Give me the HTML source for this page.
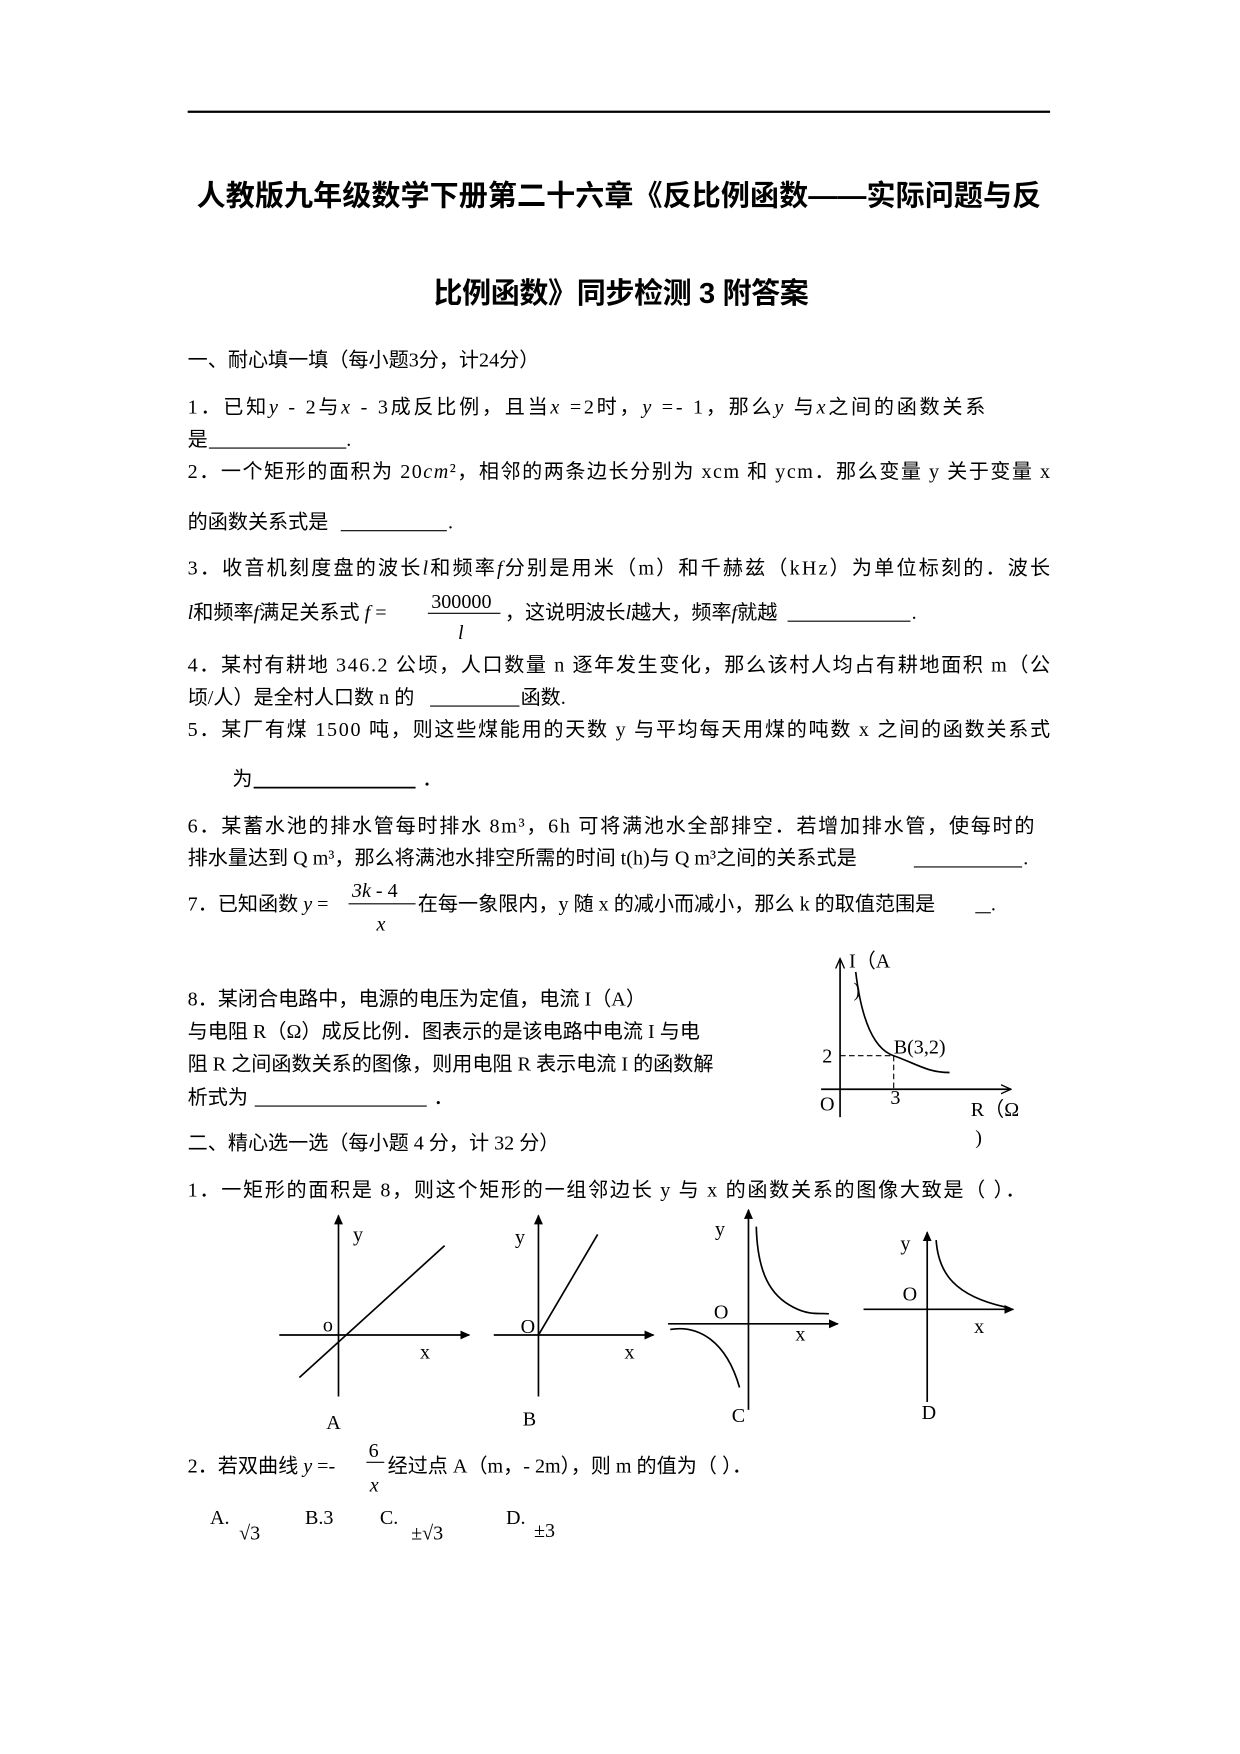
<!DOCTYPE html>
<html><head><meta charset="utf-8"><style>
html,body{margin:0;padding:0;background:#fff}
svg{display:block}
text{font-family:"Liberation Serif","Noto Sans CJK SC",serif;font-size:18px;fill:#000}
.b{font-family:"Liberation Sans","Noto Sans CJK SC",sans-serif;font-weight:bold;font-size:26px}
.i{font-style:italic}
</style></head><body>
<svg width="1240" height="1754" viewBox="0 0 1110 1570" xmlns="http://www.w3.org/2000/svg">
<defs><marker id="ar" markerWidth="10" markerHeight="10" refX="8" refY="5" orient="auto" markerUnits="userSpaceOnUse"><path d="M0,1 L9,5 L0,9 Z" fill="#000"/></marker>
<marker id="ao" markerWidth="10" markerHeight="10" refX="9" refY="5" orient="auto" markerUnits="userSpaceOnUse"><path d="M0,1 L9,5 L0,9" fill="none" stroke="#000" stroke-width="1.2"/></marker></defs>
<line x1="168" y1="100" x2="940" y2="100" stroke="#000" stroke-width="2"/>
<text class="b" x="176" y="184" textLength="756">人教版九年级数学下册第二十六章《反比例函数——实际问题与反</text>
<text class="b" x="388" y="271" textLength="336">比例函数》同步检测 3 附答案</text>
<text x="168" y="328">一、耐心填一填（每小题3分，计24分）</text>
<text x="168" y="370" textLength="714">1．已知<tspan class="i">y</tspan> - 2与<tspan class="i">x</tspan> - 3成反比例，且当<tspan class="i">x</tspan> =2时，<tspan class="i">y</tspan> =- 1，那么<tspan class="i">y</tspan> 与<tspan class="i">x</tspan>之间的函数关系</text>
<text x="168" y="399">是</text>
<line x1="187" y1="401" x2="310" y2="401" stroke="#000"/><text x="310" y="399">.</text>
<text x="168" y="428" textLength="772">2．一个矩形的面积为 20<tspan class="i">cm</tspan>²，相邻的两条边长分别为 xcm 和 ycm．那么变量 y 关于变量 x</text>
<text x="168" y="473">的函数关系式是</text><line x1="305" y1="475" x2="400" y2="475" stroke="#000"/><text x="401" y="473">.</text>
<text x="168" y="514" textLength="772">3．收音机刻度盘的波长<tspan class="i">l</tspan>和频率<tspan class="i">f</tspan>分别是用米（m）和千赫兹（kHz）为单位标刻的．波长</text>
<text x="168" y="554"><tspan class="i">l</tspan>和频率<tspan class="i">f</tspan>满足关系式 <tspan class="i">f</tspan> =</text>
<text x="386" y="544">300000</text><line x1="383" y1="549" x2="448" y2="549" stroke="#000"/><text class="i" x="410" y="572">l</text>
<text x="452" y="554">，这说明波长<tspan class="i">l</tspan>越大，频率<tspan class="i">f</tspan>就越</text><line x1="705" y1="556" x2="815" y2="556" stroke="#000"/><text x="816" y="554">.</text>
<text x="168" y="601" textLength="772">4．某村有耕地 346.2 公顷，人口数量 n 逐年发生变化，那么该村人均占有耕地面积 m（公</text>
<text x="168" y="630">顷/人）是全村人口数 n 的</text><line x1="385" y1="632" x2="465" y2="632" stroke="#000"/><text x="466" y="630">函数.</text>
<text x="168" y="659" textLength="772">5．某厂有煤 1500 吨，则这些煤能用的天数 y 与平均每天用煤的吨数 x 之间的函数关系式</text>
<text x="208" y="703">为</text><line x1="227" y1="705" x2="372" y2="705" stroke="#000" stroke-width="1.5"/><text x="378" y="703">．</text>
<text x="168" y="745" textLength="758">6．某蓄水池的排水管每时排水 8m³，6h 可将满池水全部排空．若增加排水管，使每时的</text>
<text x="168" y="774">排水量达到 Q m³，那么将满池水排空所需的时间 t(h)与 Q m³之间的关系式是</text><line x1="818" y1="776" x2="915" y2="776" stroke="#000"/><text x="916" y="774">.</text>
<text x="168" y="815">7．已知函数 <tspan class="i">y</tspan> =</text>
<text x="315" y="803"><tspan class="i">3k</tspan> - 4</text><line x1="312" y1="809" x2="372" y2="809" stroke="#000"/><text class="i" x="337" y="833">x</text>
<text x="374" y="815">在每一象限内，y 随 x 的减小而减小，那么 k 的取值范围是</text><line x1="873" y1="817" x2="887" y2="817" stroke="#000"/><text x="887" y="815">.</text>
<text x="168" y="900">8．某闭合电路中，电源的电压为定值，电流 I（A）</text>
<text x="168" y="929">与电阻 R（Ω）成反比例．图表示的是该电路中电流 I 与电</text>
<text x="168" y="958">阻 R 之间函数关系的图像，则用电阻 R 表示电流 I 的函数解</text>
<text x="168" y="988">析式为</text><line x1="228" y1="990" x2="382" y2="990" stroke="#000"/><text x="388" y="988">．</text>
<line x1="752" y1="1000" x2="752" y2="858" stroke="#000" stroke-width="1.5" marker-end="url(#ao)"/>
<line x1="735" y1="975" x2="905" y2="975" stroke="#000" stroke-width="1.5" marker-end="url(#ao)"/>
<path d="M766,870 C772,920 785,940 800,945 C820,952 830,960 850,960" fill="none" stroke="#000" stroke-width="1.5"/>
<path d="M752,945 H800 V975" fill="none" stroke="#000" stroke-dasharray="5,3"/>
<text x="760" y="866">I（A</text><text x="764" y="892">)</text>
<text x="736" y="951" font-size="16">2</text><text x="800" y="943">B(3,2)</text>
<text x="734" y="994">O</text><text x="797" y="988" font-size="16">3</text>
<text x="869" y="999">R（Ω</text><text x="873" y="1024">)</text>
<text x="168" y="1029">二、精心选一选（每小题 4 分，计 32 分）</text>
<text x="168" y="1071" textLength="750">1．一矩形的面积是 8，则这个矩形的一组邻边长 y 与 x 的函数关系的图像大致是（    ）．</text>
<line x1="303" y1="1250" x2="303" y2="1088" stroke="#000" stroke-width="1.5" marker-end="url(#ar)"/>
<line x1="250" y1="1195" x2="420" y2="1195" stroke="#000" stroke-width="1.5" marker-end="url(#ar)"/>
<line x1="268" y1="1233" x2="398" y2="1115" stroke="#000" stroke-width="1.5"/>
<text x="316" y="1111">y</text><text x="289" y="1192">o</text><text x="376" y="1216">x</text><text x="292" y="1279">A</text>
<line x1="482" y1="1250" x2="482" y2="1088" stroke="#000" stroke-width="1.5" marker-end="url(#ar)"/>
<line x1="442" y1="1195" x2="585" y2="1195" stroke="#000" stroke-width="1.5" marker-end="url(#ar)"/>
<line x1="482" y1="1195" x2="535" y2="1105" stroke="#000" stroke-width="1.5"/>
<text x="461" y="1113">y</text><text x="466" y="1193">O</text><text x="559" y="1216">x</text><text x="468" y="1276">B</text>
<line x1="670" y1="1262" x2="670" y2="1083" stroke="#000" stroke-width="1.5" marker-end="url(#ar)"/>
<line x1="598" y1="1185" x2="750" y2="1185" stroke="#000" stroke-width="1.5" marker-end="url(#ar)"/>
<path d="M677,1098 C678,1140 690,1160 710,1170 C725,1178 735,1175 742,1176" fill="none" stroke="#000" stroke-width="1.5"/>
<path d="M600,1190 C625,1186 650,1200 662,1242" fill="none" stroke="#000" stroke-width="1.5"/>
<text x="640" y="1106">y</text><text x="639" y="1180">O</text><text x="712" y="1200">x</text><text x="655" y="1273">C</text>
<line x1="830" y1="1255" x2="830" y2="1103" stroke="#000" stroke-width="1.5" marker-end="url(#ar)"/>
<line x1="773" y1="1172" x2="907" y2="1172" stroke="#000" stroke-width="1.5" marker-end="url(#ar)"/>
<path d="M838,1110 C840,1140 855,1160 900,1170" fill="none" stroke="#000" stroke-width="1.5"/>
<text x="806" y="1119">y</text><text x="808" y="1164">O</text><text x="872" y="1193">x</text><text x="825" y="1270">D</text>
<text x="168" y="1318">2．若双曲线 <tspan class="i">y</tspan> =-</text>
<text x="330" y="1304">6</text><line x1="328" y1="1309" x2="344" y2="1309" stroke="#000"/><text class="i" x="331" y="1335">x</text>
<text x="347" y="1318">经过点 A（m，- 2m），则 m 的值为（        ）．</text>
<text x="188" y="1364">A.</text><text x="214" y="1378">√3</text>
<text x="273" y="1364">B.3</text>
<text x="340" y="1364">C.</text><text x="368" y="1378">±√3</text>
<text x="453" y="1364">D.</text><text x="478" y="1376">±3</text>
</svg>
</body></html>
